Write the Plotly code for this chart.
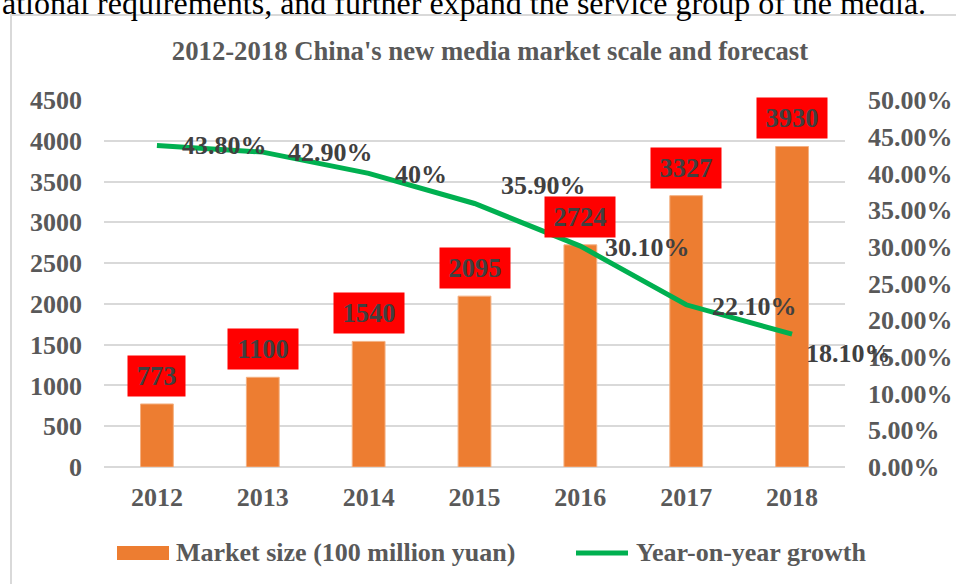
import plotly.graph_objects as go

# ---- data ----
years = ["2012", "2013", "2014", "2015", "2016", "2017", "2018"]
market_size = [773, 1100, 1540, 2095, 2724, 3327, 3930]
growth = [0.438, 0.429, 0.40, 0.359, 0.301, 0.221, 0.181]
growth_labels = ["43.80%", "42.90%", "40%", "35.90%", "30.10%", "22.10%", "18.10%"]
left_ticks = [0, 500, 1000, 1500, 2000, 2500, 3000, 3500, 4000, 4500]
right_ticks = [0, 0.05, 0.10, 0.15, 0.20, 0.25, 0.30, 0.35, 0.40, 0.45, 0.50]

title_text = "2012-2018 China's new media market scale and forecast"
bar_name = "Market size (100 million yuan)"
line_name = "Year-on-year growth"
page_text = "ational requirements, and further expand the service group of the media."

# ---- layout geometry (pixels) ----
W, H = 956, 584
ML, MR, MT, MB = 104, 111, 100, 117
PW, PH = W - ML - MR, H - MT - MB


def px_x(p):
    return (p - ML) / PW


def px_y(p):
    return (H - MB - p) / PH


FONT = "Liberation Serif, Times New Roman, serif"
BAR_COLOR = "#ed7d31"
LINE_COLOR = "#00b050"
TICK_COLOR = "#595959"
LABEL_COLOR = "#404040"


def bold(size, color):
    return dict(family=FONT, size=size, color=color, weight="bold")


# line-label offsets (style): xshift, yshift in px
line_label_shift = [(23, 0), (23, 0), (24, -1), (24, 18), (23, -1), (24, -2), (12, -19)]

fig = go.Figure()
fig.add_trace(go.Bar(
    x=years, y=market_size, name=bar_name, width=0.31,
    marker=dict(color=BAR_COLOR, line=dict(color="#f4b183", width=1)),
    yaxis="y", showlegend=False, hoverinfo="skip",
))
fig.add_trace(go.Scatter(
    x=years, y=growth, name=line_name, mode="lines",
    line=dict(color=LINE_COLOR, width=5),
    yaxis="y2", showlegend=False, hoverinfo="skip",
))

annotations = []
# bar value boxes (x given as category index on the category axis)
for i, v in enumerate(market_size):
    t = str(v)
    annotations.append(dict(
        x=i, y=v, xref="x", yref="y", text=t, showarrow=False,
        xanchor="center", yanchor="bottom", yshift=7,
        bgcolor="#ff0000", borderpad=5, width=len(t) * 13 + 8, height=30,
        font=bold(26.5, LABEL_COLOR),
    ))
# growth labels
for i, (g, lab, (dx, dy)) in enumerate(zip(growth, growth_labels, line_label_shift)):
    annotations.append(dict(
        x=i, y=g, xref="x", yref="y2", text=lab, showarrow=False,
        xanchor="left", yanchor="middle", xshift=dx, yshift=dy,
        font=bold(26, LABEL_COLOR),
    ))
# legend text
annotations.append(dict(
    x=px_x(174), y=px_y(552), xref="paper", yref="paper", text=bar_name,
    showarrow=False, xanchor="left", yanchor="middle", font=bold(26, TICK_COLOR),
))
annotations.append(dict(
    x=px_x(634), y=px_y(552), xref="paper", yref="paper", text=line_name,
    showarrow=False, xanchor="left", yanchor="middle", font=bold(26, TICK_COLOR),
))
# surrounding document text (cut off at the top)
annotations.append(dict(
    x=px_x(0), y=px_y(3), xref="paper", yref="paper", text=page_text,
    showarrow=False, xanchor="left", yanchor="middle",
    font=dict(family=FONT, size=32, color="#000000"),
))

shapes = [
    # chart frame
    dict(type="rect", xref="paper", yref="paper",
         x0=px_x(11), x1=px_x(975), y0=px_y(15), y1=px_y(600),
         line=dict(color="#d9d9d9", width=2), fillcolor="rgba(0,0,0,0)", layer="below"),
    # legend keys
    dict(type="rect", xref="paper", yref="paper",
         x0=px_x(117), x1=px_x(169), y0=px_y(546), y1=px_y(560),
         line=dict(width=0), fillcolor=BAR_COLOR),
    dict(type="line", xref="paper", yref="paper",
         x0=px_x(576), x1=px_x(628), y0=px_y(553), y1=px_y(553),
         line=dict(color=LINE_COLOR, width=5)),
]

fig.update_layout(
    width=W, height=H,
    margin=dict(l=ML, r=MR, t=MT, b=MB, autoexpand=False),
    paper_bgcolor="white", plot_bgcolor="white",
    title=dict(text=title_text, x=490 / W, xref="container", xanchor="center",
               y=1 - 51 / H, yref="container", yanchor="middle",
               font=bold(26.7, TICK_COLOR)),
    xaxis=dict(type="category", categoryorder="array", categoryarray=years,
               range=[-0.5, len(years) - 0.5],
               showgrid=False, showline=False, ticks="", zeroline=False,
               tickfont=bold(26, TICK_COLOR), ticklabelstandoff=12),
    yaxis=dict(range=[0, 4500], tickvals=left_ticks, showgrid=True, gridcolor="#d9d9d9",
               gridwidth=2, zeroline=True, zerolinecolor="#d9d9d9", zerolinewidth=2,
               showline=False, ticks="",
               tickfont=bold(26, TICK_COLOR), ticklabelstandoff=21),
    yaxis2=dict(range=[0, 0.5], tickvals=right_ticks, tickformat=".2%", overlaying="y",
                side="right", showgrid=False, zeroline=False, showline=False, ticks="",
                tickfont=bold(26, TICK_COLOR), ticklabelstandoff=22),
    annotations=annotations,
    shapes=shapes,
    showlegend=False,
)

fig.write_html("out.html")
